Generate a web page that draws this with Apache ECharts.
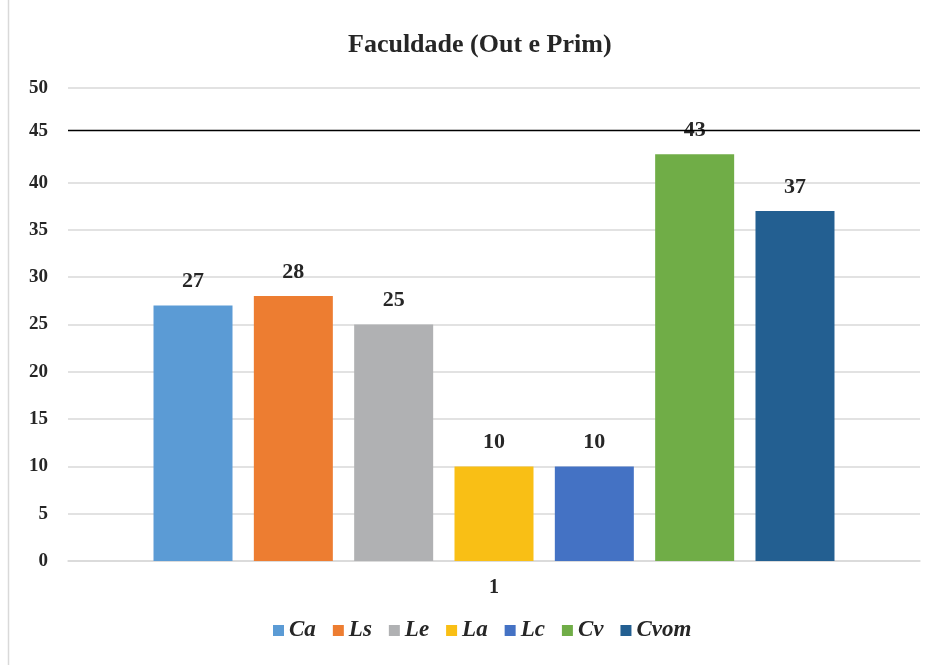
<!DOCTYPE html>
<html>
<head>
<meta charset="utf-8">
<script src="https://cdn.jsdelivr.net/npm/echarts@6/dist/echarts.min.js"></script>
<style>
  html, body { margin: 0; padding: 0; background: #fff; }
  #chart { width: 938px; height: 665px; }
</style>
</head>
<body>
<div id="chart"></div>
<script>
// Faculdade (Out e Prim)
var categories = ["1"];
var seriesNames = ["Ca", "Ls", "Le", "La", "Lc", "Cv", "Cvom"];
var seriesValues = [27, 28, 25, 10, 10, 43, 37];
var seriesColors = ["#5b9bd5", "#ed7d31", "#b0b1b3", "#f9bf15", "#4472c4", "#70ad47", "#235f91"];
var yTicks = [0, 5, 10, 15, 20, 25, 30, 35, 40, 45, 50];
// the 45 gridline is drawn black (and a bit high) in the original
var markValue = 45.5;

var serif = "'Liberation Serif', 'DejaVu Serif', serif";
var textColor = "#262626";

var chart = echarts.init(document.getElementById("chart"));

var series = seriesNames.map(function (name, i) {
  var s = {
    name: name,
    type: "bar",
    data: [seriesValues[i]],
    barWidth: 79,
    barGap: "27%",
    itemStyle: { color: seriesColors[i] },
    label: {
      show: true,
      position: "top",
      distance: 13,
      fontFamily: serif,
      fontWeight: "bold",
      fontSize: 22,
      color: textColor
    }
  };
  if (i === 0) {
    s.markLine = {
      silent: true,
      symbol: ["none", "none"],
      label: { show: false },
      lineStyle: { color: "#000", width: 1.3, type: "solid" },
      data: [{ yAxis: markValue }]
    };
  }
  return s;
});

// grey for every gridline except 45 (covered by the black line)
var gridColors = yTicks.map(function (t) {
  return t === 45 ? "rgba(0,0,0,0)" : "#d9d9d9";
});

var option = {
  animation: false,
  backgroundColor: "#fff",
  title: {
    text: "Faculdade (Out e Prim)",
    left: 343,
    top: 27,
    textStyle: {
      fontFamily: serif,
      fontWeight: "bold",
      fontSize: 26,
      color: textColor
    }
  },
  graphic: [{
    type: "line",
    shape: { x1: 8.5, y1: 0, x2: 8.5, y2: 665 },
    style: { stroke: "#d9d9d9", lineWidth: 1.5 }
  }],
  legend: {
    data: seriesNames,
    bottom: 18,
    left: 268,
    icon: "rect",
    itemWidth: 11,
    itemHeight: 11,
    itemGap: 17,
    textStyle: {
      fontFamily: serif,
      fontWeight: "bold",
      fontStyle: "italic",
      fontSize: 23,
      color: textColor
    }
  },
  grid: { left: 68, right: 18, top: 88, bottom: 104 },
  xAxis: {
    type: "category",
    data: categories,
    axisLine: { lineStyle: { color: "#d9d9d9", width: 1.5 } },
    axisTick: { show: false },
    axisLabel: {
      margin: 17,
      fontFamily: serif,
      fontWeight: "bold",
      fontSize: 20,
      color: textColor
    }
  },
  yAxis: {
    type: "value",
    min: yTicks[0],
    max: yTicks[yTicks.length - 1],
    interval: 5,
    axisLine: { show: false },
    axisTick: { show: false },
    splitLine: { lineStyle: { color: gridColors, width: 1.5 } },
    axisLabel: {
      margin: 20,
      fontFamily: serif,
      fontWeight: "bold",
      fontSize: 19,
      color: textColor,
      formatter: function (v) {
        return v === 45 ? "{up|" + v + "}" : String(v);
      },
      rich: {
        up: {
          fontFamily: serif,
          fontWeight: "bold",
          fontSize: 19,
          color: textColor,
          padding: [0, 0, 9, 0]
        }
      }
    }
  },
  series: series
};

chart.setOption(option);
</script>
</body>
</html>
